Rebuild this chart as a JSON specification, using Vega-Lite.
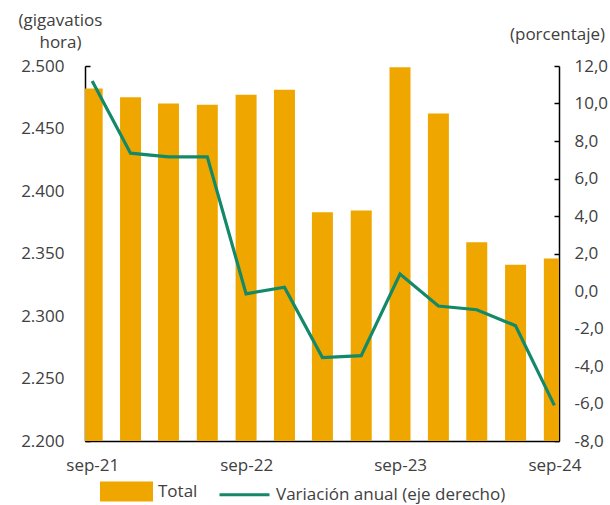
{
  "$schema": "https://vega.github.io/schema/vega-lite/v6.json",
  "width": 474,
  "height": 375,
  "autosize": {"type": "none"},
  "padding": {"left": 85, "top": 66, "right": 51, "bottom": 64},
  "config": {
    "view": {"stroke": null},
    "font": "Open Sans",
    "axis": {
      "labelFont": "Open Sans",
      "labelFontSize": 17,
      "labelColor": "#404040",
      "domainColor": "#000000",
      "domainWidth": 1.5,
      "tickColor": "#000000",
      "tickWidth": 1.5,
      "tickSize": -5,
      "grid": false,
      "titleFont": "Open Sans",
      "titleFontSize": 17,
      "titleFontWeight": "normal",
      "titleColor": "#404040"
    },
    "legend": {
      "labelFont": "Open Sans",
      "labelFontSize": 17,
      "labelColor": "#404040",
      "labelLimit": 0
    }
  },
  "data": {
    "values": [
      {"fecha": "2021-09-15", "total": 2482, "variacion": 11.2},
      {"fecha": "2021-12-15", "total": 2475, "variacion": 7.35},
      {"fecha": "2022-03-15", "total": 2470, "variacion": 7.15},
      {"fecha": "2022-06-15", "total": 2469, "variacion": 7.15},
      {"fecha": "2022-09-15", "total": 2477, "variacion": -0.15},
      {"fecha": "2022-12-15", "total": 2481, "variacion": 0.2},
      {"fecha": "2023-03-15", "total": 2383, "variacion": -3.55},
      {"fecha": "2023-06-15", "total": 2384.5, "variacion": -3.45},
      {"fecha": "2023-09-15", "total": 2499, "variacion": 0.9},
      {"fecha": "2023-12-15", "total": 2462, "variacion": -0.8},
      {"fecha": "2024-03-15", "total": 2359, "variacion": -1.0},
      {"fecha": "2024-06-15", "total": 2341, "variacion": -1.85},
      {"fecha": "2024-09-15", "total": 2346, "variacion": -6.1}
    ]
  },
  "layer": [
    {
      "mark": {"type": "bar", "size": 21, "clip": true},
      "encoding": {
        "x": {
          "field": "fecha",
          "type": "temporal",
          "scale": {
            "type": "utc",
            "padding": 0,
            "domain": [
              {"year": 2021, "month": 8, "date": 29, "utc": true},
              {"year": 2024, "month": 9, "date": 26, "utc": true}
            ]
          },
          "axis": {
            "title": null,
            "values": [
              {"year": 2021, "month": 9, "date": 1, "utc": true},
              {"year": 2022, "month": 9, "date": 1, "utc": true},
              {"year": 2023, "month": 9, "date": 1, "utc": true},
              {"year": 2024, "month": 9, "date": 1, "utc": true}
            ],
            "labelExpr": "'sep-' + utcFormat(datum.value, '%y')",
            "labelOffset": 6,
            "labelPadding": 21,
            "labelFlush": false,
            "labelOverlap": false
          }
        },
        "y": {
          "field": "total",
          "type": "quantitative",
          "scale": {"domain": [2200, 2500], "zero": false, "nice": false},
          "axis": {
            "values": [2200, 2250, 2300, 2350, 2400, 2450, 2500],
            "labelExpr": "replace(format(datum.value, ','), ',', '.')",
            "labelPadding": 26,
            "title": ["(gigavatios", "hora)"],
            "titleAngle": 0,
            "titleX": -25,
            "titleY": -41,
            "titleAlign": "center",
            "titleBaseline": "alphabetic",
            "titleLineHeight": 22
          }
        },
        "color": {
          "datum": "Total",
          "scale": {
            "domain": ["Total", "Variación anual (eje derecho)"],
            "range": ["#EFA700", "#13896A"]
          },
          "legend": {
            "title": null,
            "orient": "none",
            "legendX": 15,
            "legendY": 399,
            "direction": "horizontal",
            "columnPadding": 15,
            "labelOffset": 5,
            "labelLimit": 0,
            "symbolSize": 2500,
            "symbolType": "M-1,-0.34H1V0.34H-1Z",
            "encode": {
              "symbols": {
                "update": {
                  "fill": {"signal": "datum.label === 'Total' ? '#EFA700' : 'transparent'"},
                  "stroke": {"signal": "datum.label === 'Total' ? 'transparent' : '#13896A'"},
                  "strokeWidth": {"value": 3},
                  "opacity": {"value": 1},
                  "shape": {"signal": "datum.label === 'Total' ? 'M-1,-0.34H1V0.34H-1Z' : 'M-1,0H1'"}
                }
              }
            }
          }
        }
      }
    },
    {
      "mark": {"type": "line", "strokeWidth": 3.2},
      "encoding": {
        "x": {"field": "fecha", "type": "temporal"},
        "y": {
          "field": "variacion",
          "type": "quantitative",
          "scale": {"domain": [-8, 12], "nice": false},
          "axis": {
            "orient": "right",
            "values": [-8, -6, -4, -2, 0, 2, 4, 6, 8, 10, 12],
            "labelExpr": "replace(replace(format(datum.value, '.1f'), '.', ','), '\u2212', '-')",
            "labelPadding": 20,
            "title": "(porcentaje)",
            "titleAngle": 0,
            "titleX": -2,
            "titleY": -27,
            "titleAlign": "center",
            "titleBaseline": "alphabetic"
          }
        },
        "color": {"datum": "Variación anual (eje derecho)"}
      }
    }
  ],
  "resolve": {"scale": {"y": "independent"}}
}
